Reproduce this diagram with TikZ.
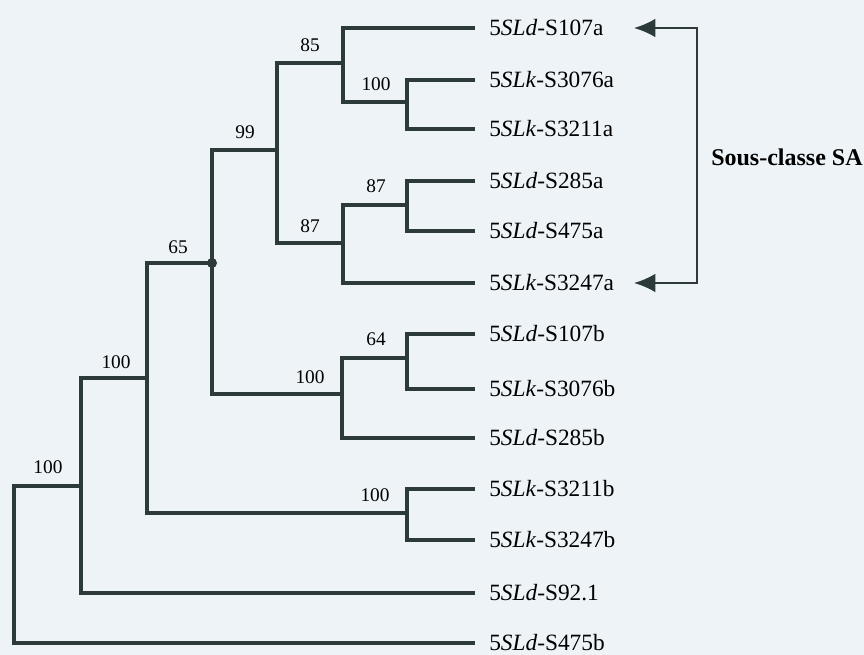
\documentclass[tikz,border=0pt]{standalone}
\usepackage{fontspec}
\setmainfont{Liberation Serif}
\usetikzlibrary{arrows.meta}
\definecolor{bgc}{HTML}{EDF3F7}
\definecolor{ink}{HTML}{2C3A3A}
\begin{document}
\begin{tikzpicture}[x=0.75pt,y=-0.75pt,
  branch/.style={draw=ink,line width=3.6pt,line join=miter},
  leaf/.style={anchor=west,inner sep=0pt,text=black,font=\fontsize{17.5}{17.5}\selectfont},
  boot/.style={inner sep=0pt,text=black,font=\fontsize{14.5}{14.5}\selectfont},
  bracket/.style={draw=ink,line width=1.6pt,{Latex[length=16pt,width=14pt]}-{Latex[length=16pt,width=14pt]}},
  dotc/.style={circle,fill=ink,inner sep=0pt,minimum size=7.5pt}]
\fill[bgc] (0,0) rectangle (864,655);
\useasboundingbox (0,0) rectangle (864,655);
% leaf ends
\foreach \n/\y in {1/28,2/80,3/129,4/181,5/231,6/283,7/334,8/389,9/438,10/489,11/540,12/593,13/643}
  \coordinate (l\n) at (475,\y);
% leaf labels
\node[leaf] (t1) at (489,28) {5\textit{SLd}-S107a};
\node[leaf] (t2) at (489,80) {5\textit{SLk}-S3076a};
\node[leaf] (t3) at (489,129) {5\textit{SLk}-S3211a};
\node[leaf] (t4) at (489,181) {5\textit{SLd}-S285a};
\node[leaf] (t5) at (489,231) {5\textit{SLd}-S475a};
\node[leaf] (t6) at (489,283) {5\textit{SLk}-S3247a};
\node[leaf] (t7) at (489,334) {5\textit{SLd}-S107b};
\node[leaf] (t8) at (489,389) {5\textit{SLk}-S3076b};
\node[leaf] (t9) at (489,438) {5\textit{SLd}-S285b};
\node[leaf] (t10) at (489,489) {5\textit{SLk}-S3211b};
\node[leaf] (t11) at (489,540) {5\textit{SLk}-S3247b};
\node[leaf] (t12) at (489,593) {5\textit{SLd}-S92.1};
\node[leaf] (t13) at (489,643) {5\textit{SLd}-S475b};
% internal nodes
\coordinate (nB) at (407,102);
\coordinate (nA) at (343,63);
\coordinate (nF) at (407,205);
\coordinate (nG) at (343,243);
\coordinate (nC) at (277,150);
\coordinate (nK) at (407,358);
\coordinate (nH) at (342,394);
\coordinate (nD) at (212,263);
\coordinate (nJ) at (407,513);
\coordinate (nE) at (147,378);
\coordinate (nI) at (81,486);
\coordinate (nR) at (14,560);
% branches
\path[branch] (l2) -| (nB) |- (l3);
\path[branch] (l1) -| (nA) |- (nB);
\path[branch] (l4) -| (nF) |- (l5);
\path[branch] (nF) -| (nG) |- (l6);
\path[branch] (nA) -| (nC) |- (nG);
\path[branch] (l7) -| (nK) |- (l8);
\path[branch] (nK) -| (nH) |- (l9);
\path[branch] (nC) -| (nD) |- (nH);
\path[branch] (l10) -| (nJ) |- (l11);
\path[branch] (nD) -| (nE) |- (nJ);
\path[branch] (nE) -| (nI) |- (l12);
\path[branch] (nI) -| (nR) |- (l13);
\node[dotc] (dot) at (nD) {};
% bootstrap values
\node[boot] (b85) at (310,45) {85};
\node[boot] (bB) at (376,84) {100};
\node[boot] (b99) at (245,132) {99};
\node[boot] (bF) at (376,186) {87};
\node[boot] (bG) at (310,226) {87};
\node[boot] (b65) at (178,247) {65};
\node[boot] (b64) at (376,339) {64};
\node[boot] (bH) at (310,377) {100};
\node[boot] (bI) at (116,362) {100};
\node[boot] (bJ) at (375,495) {100};
\node[boot] (bR) at (48,467) {100};
% bracket
\coordinate (at1) at (634,28);
\coordinate (at2) at (634,283);
\coordinate (bm) at (697,155);
\draw[bracket] (at1) -| (bm) |- (at2);
\node[anchor=west,inner sep=0pt,font=\bfseries\fontsize{18}{18}\selectfont] (sa) at (711,157) {Sous-classe SA};
\end{tikzpicture}
\end{document}
